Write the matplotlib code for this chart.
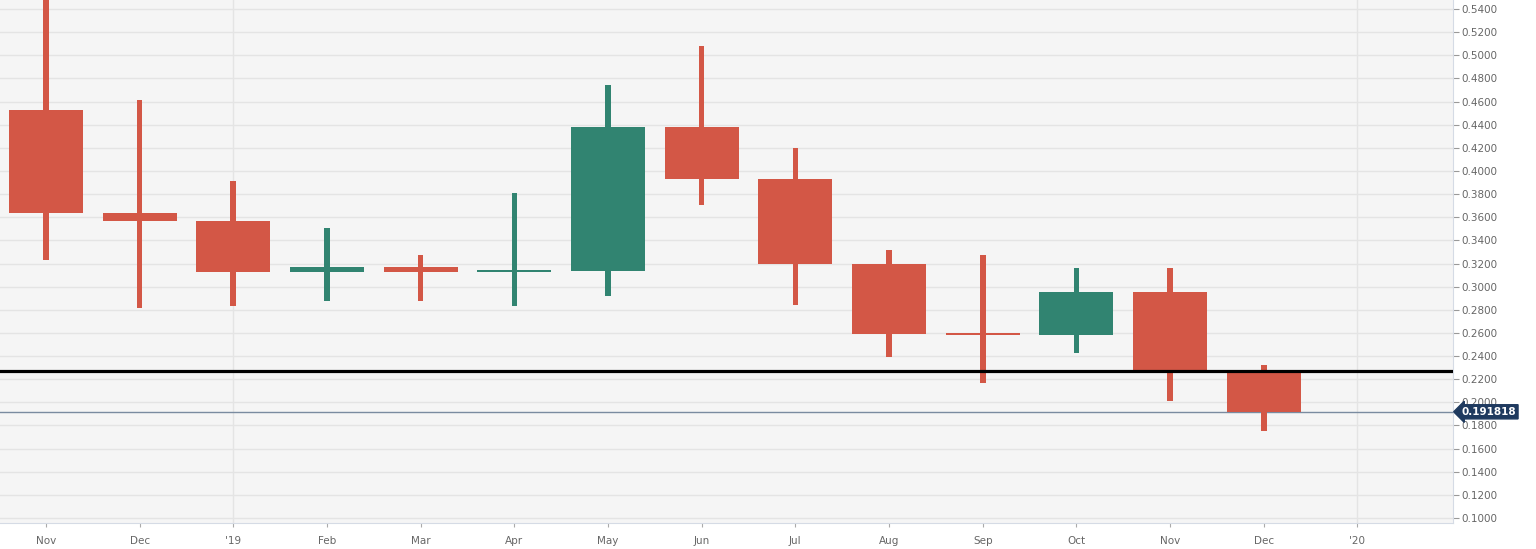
import matplotlib
matplotlib.use("Agg")
import matplotlib.pyplot as plt
import numpy as np

# monthly candles, Nov 2018 .. Dec 2019
months = ["Nov", "Dec", "'19", "Feb", "Mar", "Apr", "May", "Jun",
          "Jul", "Aug", "Sep", "Oct", "Nov", "Dec", "'20"]
opens  = [0.4527, 0.3636, 0.3567, 0.3128, 0.3170, 0.3124, 0.3135, 0.4380,
          0.3930, 0.3196, 0.2590, 0.2585, 0.2954, 0.2270]
closes = [0.3636, 0.3570, 0.3127, 0.3170, 0.3128, 0.3134, 0.4380, 0.3930,
          0.3196, 0.2591, 0.2583, 0.2954, 0.2271, 0.191818]
highs  = [0.5600, 0.4613, 0.3913, 0.3507, 0.3273, 0.3810, 0.4743, 0.5080,
          0.4198, 0.3317, 0.3273, 0.3161, 0.3160, 0.2323]
lows   = [0.3230, 0.2815, 0.2833, 0.2876, 0.2876, 0.2833, 0.2919, 0.3706,
          0.2841, 0.2392, 0.2167, 0.2426, 0.2011, 0.1752]
level = 0.2271
last_price = 0.191818

RED = "#d35746"
GREEN = "#318471"

fig = plt.figure(figsize=(15.36, 5.49), dpi=100)
ax = fig.add_axes([0, 26 / 549, 1453 / 1536, 1 - 26 / 549])
ax.set_facecolor("#f5f5f5")

x = np.arange(len(opens))
o = np.array(opens); c = np.array(closes)
h = np.array(highs); l = np.array(lows)
cols = [GREEN if cc > oo else RED for oo, cc in zip(o, c)]

# wicks
ax.bar(x, h - l, bottom=l, width=0.06, color=cols, zorder=3)
# bodies (small minimum so dojis still show)
body = np.maximum(np.abs(c - o), 0.0016)
ax.bar(x, body, bottom=np.minimum(o, c), width=0.79, color=cols, zorder=3)

ax.axhline(level, color="black", lw=2.3, zorder=4)
ax.axhline(last_price, color="#7a8ba0", lw=1.0, zorder=2)

ax.set_xlim(-0.49, 15.02)
ax.set_ylim(0.0957, 0.5478)

ax.set_xticks(np.arange(len(months)))
ax.set_xticklabels(months)
ax.set_yticks(np.arange(0.10, 0.5401, 0.02))
ax.yaxis.set_major_formatter(matplotlib.ticker.FormatStrFormatter("%.4f"))
ax.yaxis.tick_right()
ax.tick_params(axis="y", length=4, width=0.8, color="#999999", labelcolor="#666666",
               labelsize=7.5, pad=2)
ax.tick_params(axis="x", length=3, width=0.8, color="#aaaaaa", labelcolor="#666666",
               labelsize=7.5, pad=6)

ax.grid(axis="y", color="#e4e4e4", lw=1.0, zorder=0)
for gx in (2, 14):
    ax.axvline(gx, color="#e4e4e4", lw=1.0, zorder=0)
ax.set_axisbelow(True)

for side in ("top", "left"):
    ax.spines[side].set_visible(False)
ax.spines["right"].set_color("#d5dbe5")
ax.spines["bottom"].set_color("#d5dbe5")

ax.annotate("0.191818", xy=(1.0, last_price), xycoords=("axes fraction", "data"),
            xytext=(6, 0), textcoords="offset points", ha="left", va="center",
            fontsize=7.5, fontweight="bold", color="white",
            bbox=dict(boxstyle="larrow,pad=0.2", fc="#1f3a5f", ec="#1f3a5f"),
            annotation_clip=False, zorder=5)

fig.savefig("out.png", dpi=100)
